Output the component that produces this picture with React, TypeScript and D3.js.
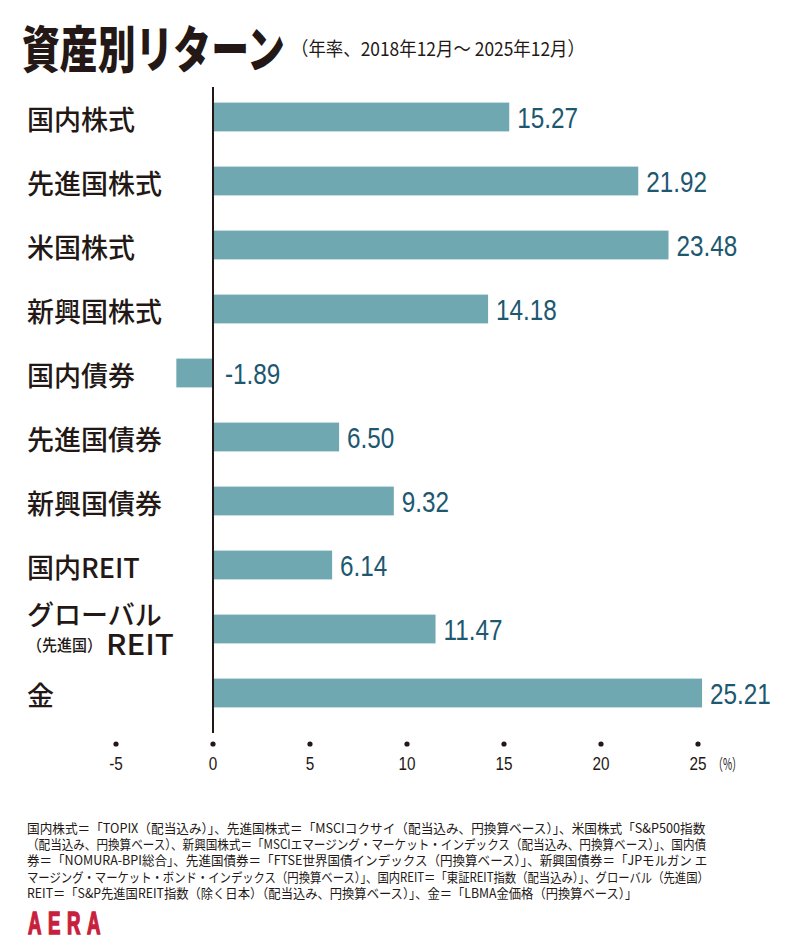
import React, { useLayoutEffect, useRef, useState } from 'react';
import * as d3 from 'd3';

const categories = ['国内株式', '先進国株式', '米国株式', '新興国株式', '国内債券', '先進国債券', '新興国債券', '国内REIT', 'グローバルREIT', '金'];
const returns = [15.27, 21.92, 23.48, 14.18, -1.89, 6.5, 9.32, 6.14, 11.47, 25.21];
const tickValues = [-5, 0, 5, 10, 15, 20, 25];
const footnotes = [
  '国内株式＝「TOPIX（配当込み）」、先進国株式＝「MSCIコクサイ（配当込み、円換算ベース）」、米国株式「S&P500指数',
  '（配当込み、円換算ベース）、新興国株式＝「MSCIエマージング・マーケット・インデックス（配当込み、円換算ベース）」、国内債',
  '券＝「NOMURA-BPI総合」、先進国債券＝「FTSE世界国債インデックス（円換算ベース）」、新興国債券＝「JPモルガン エ',
  'マージング・マーケット・ボンド・インデックス（円換算ベース）」、国内REIT＝「東証REIT指数（配当込み）」、グローバル（先進国）',
  'REIT＝「S&P先進国REIT指数（除く日本）（配当込み、円換算ベース）」、金＝「LBMA金価格（円換算ベース）」',
];
const footnoteWidths = [679, 680, 681, 683, 611];

const W = 800;
const H = 940;
const JP = '"Noto Sans CJK JP", "Noto Sans", sans-serif';
const SANS = '"Liberation Sans", Arial, sans-serif';
const INK = '#231815';
const BAR = '#6fa8b1';
const VALUE = '#1d5870';

// squeezes a text horizontally so it fills the given width
function FitText({ x, y, width, children, ...rest }: any) {
  const ref = useRef<SVGTextElement>(null);
  const [s, setS] = useState(1);
  useLayoutEffect(() => {
    if (ref.current) {
      const len = ref.current.getComputedTextLength();
      if (len > 0) setS(width / len);
    }
  }, [width, children]);
  return (
    <g transform={`translate(${x},${y}) scale(${s},1)`}>
      <text ref={ref} {...rest}>
        {children}
      </text>
    </g>
  );
}

export default function App() {
  const x = d3.scaleLinear().domain([-5, 25]).range([116, 698]);
  const y = d3
    .scaleBand<string>()
    .domain(categories)
    .range([85, 725])
    .paddingInner(0.55)
    .paddingOuter(0.275);
  const bw = y.bandwidth();
  const fmt = (v: number) => d3.format('.2f')(v).replace('−', '-');

  return (
    <svg width={W} height={H} style={{ display: 'block', position: 'absolute', left: 0, top: 0, background: '#fff' }}>
      {/* title */}
      <FitText x={22} y={68} width={263} fontFamily={JP} fontWeight={900} fontSize={50} fill={INK}>
        資産別リターン
      </FitText>
      <FitText x={291} y={56} width={294} fontFamily={JP} fontSize={19} fill={INK}>
        （年率、2018年12月～ 2025年12月）
      </FitText>

      {/* bars */}
      {categories.map((c, i) => {
        const v = returns[i];
        return (
          <rect key={c} x={x(Math.min(0, v))} y={y(c)} width={Math.abs(x(v) - x(0))} height={bw} fill={BAR} />
        );
      })}

      {/* value labels */}
      {categories.map((c, i) => {
        const v = returns[i];
        const lx = x(Math.max(0, v)) + (v < 0 ? 12 : 8);
        const ly = (y(c) as number) + bw / 2;
        return (
          <g key={c} transform={`translate(${lx},${ly}) scale(0.81,1)`}>
            <text dy="0.36em" fontFamily={SANS} fontSize={30} fill={VALUE}>
              {fmt(v)}
            </text>
          </g>
        );
      })}

      {/* category labels */}
      {categories.map((c) => {
        const cy = (y(c) as number) + bw / 2;
        if (c === 'グローバルREIT') {
          return (
            <g key={c} fontFamily={JP} fill={INK} fontWeight={500}>
              <text x={27} y={cy - 14} dy="0.36em" fontSize={27}>
                グローバル
              </text>
              <FitText x={27} y={cy + 16} width={75} dy="0.36em" fontSize={16}>
                （先進国）
              </FitText>
              <FitText x={106} y={cy + 16} width={68} dy="0.36em" fontSize={29}>
                REIT
              </FitText>
            </g>
          );
        }
        return (
          <text key={c} x={27} y={cy + 3} dy="0.36em" fontFamily={JP} fontWeight={500} fontSize={27} fill={INK}>
            {c}
          </text>
        );
      })}

      {/* zero line */}
      <line x1={x(0)} x2={x(0)} y1={87} y2={733} stroke={INK} strokeWidth={2} />

      {/* axis ticks */}
      {tickValues.map((t) => (
        <g key={t}>
          <circle cx={x(t)} cy={744} r={2.6} fill={INK} />
          <g transform={`translate(${x(t)},764) scale(0.85,1)`}>
            <text dy="0.36em" textAnchor="middle" fontFamily={SANS} fontSize={18} fill={INK}>
              {t}
            </text>
          </g>
        </g>
      ))}
      <FitText x={713} y={764} width={29} dy="0.36em" fontFamily={JP} fontSize={16} fill={INK}>
        （%）
      </FitText>

      {/* footnotes */}
      {footnotes.map((line, i) => (
        <FitText key={i} x={27} y={828 + i * 16.4} width={footnoteWidths[i]} dy="0.36em" fontFamily={JP} fontSize={13} fill={INK}>
          {line}
        </FitText>
      ))}

      {/* logo */}
      <g transform="translate(28,934) scale(0.6,1)">
        <text
          fontFamily={SANS}
          fontWeight={700}
          fontSize={31}
          letterSpacing={11}
          fill="#c8203c"
          stroke="#c8203c"
          strokeWidth={1.6}
        >
          AERA
        </text>
      </g>
    </svg>
  );
}
